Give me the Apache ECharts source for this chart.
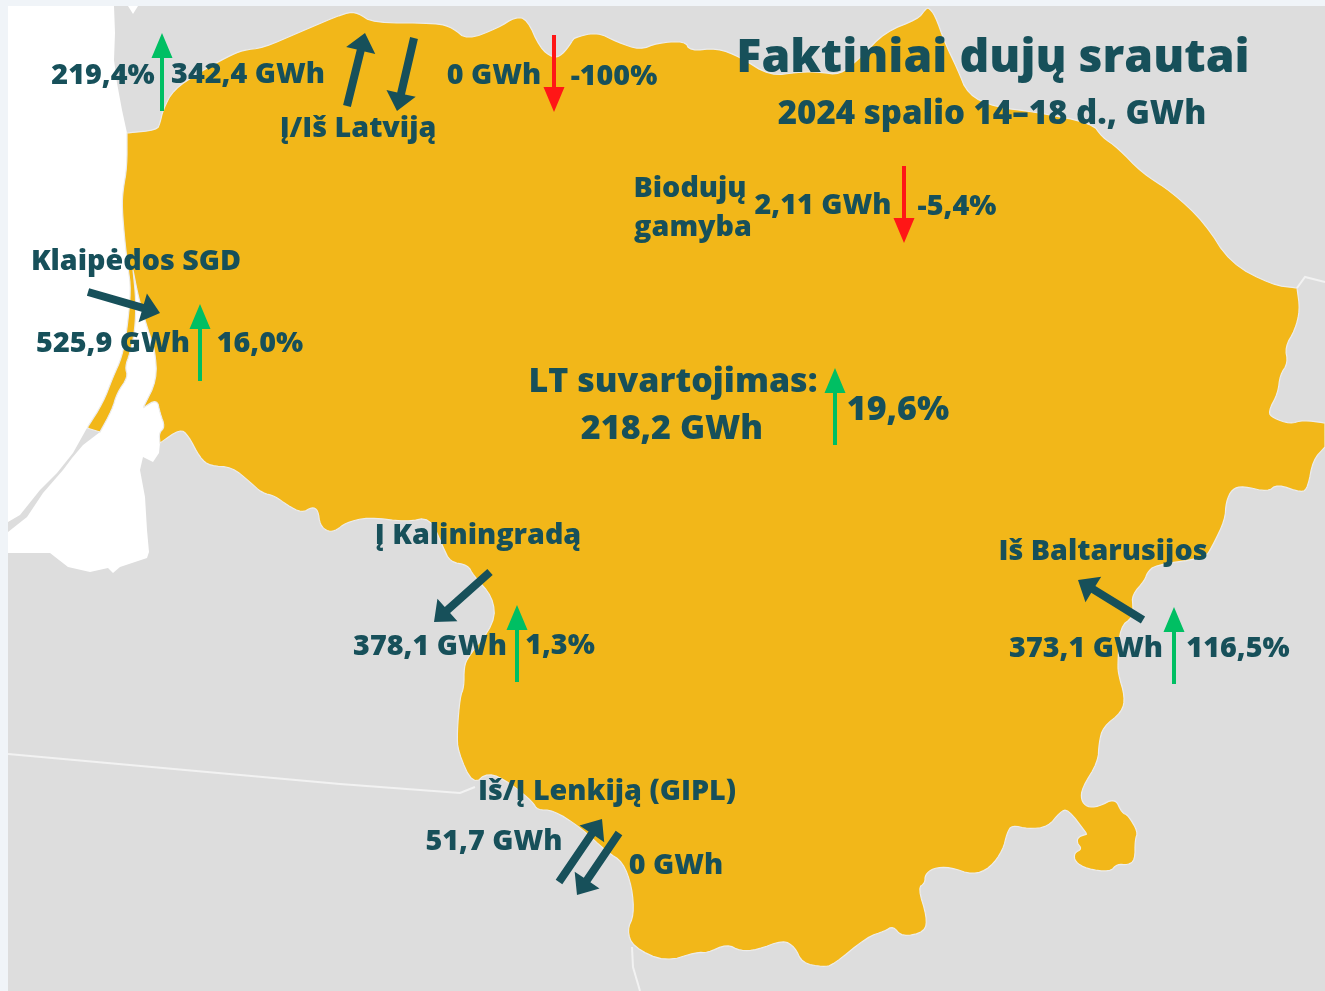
<!DOCTYPE html>
<html>
<head>
<meta charset="utf-8">
<title>Faktiniai dujų srautai</title>
<script src="https://cdn.jsdelivr.net/npm/echarts@6/dist/echarts.min.js"></script>
<style>
    html, body { margin: 0; padding: 0; background: #f0f4f8; }
    #chart { width: 1325px; height: 991px; }
</style>
</head>
<body>
<div id="chart"></div>
<script>
// tekstai
const titleText = 'Faktiniai dujų srautai';
const subtitleText = '2024 spalio 14–18 d., GWh';
const flowNames = ['Į/Iš Latviją', 'Klaipėdos SGD', 'Į Kaliningradą', 'Iš Baltarusijos', 'Iš/Į Lenkiją (GIPL)', 'Biodujų', 'gamyba', 'LT suvartojimas:'];
const flowValues = ['342,4 GWh', '0 GWh', '525,9 GWh', '378,1 GWh', '373,1 GWh', '51,7 GWh', '0 GWh', '2,11 GWh', '218,2 GWh'];
const changeValues = ['219,4%', '-100%', '16,0%', '1,3%', '116,5%', '-5,4%', '19,6%'];

// kur stovi tekstai (tame pačiame eiliškume kaip masyvai aukščiau)
const namePlaces = [[358, 129], [136, 262], [478, 536], [1103, 552], [607, 792], [690, 189], [693, 228], [673, 382]];
const valuePlaces = [[248, 75], [494, 76], [113, 344], [430, 647], [1086, 649], [494, 842], [676, 866], [823, 206], [672, 429]];
const changePlaces = [[103, 76], [614, 77], [260, 344], [560, 646], [1238, 649], [957, 207], [898, 410]];

// pokycio rodykles: x, virsus, apacia. Kryptis ir spalva pagal changeValues zenkla
const changeArrows = [[162, 33, 111], [554, 35, 112], [200, 304, 381], [517, 605, 682], [1174, 607, 684], [904, 166, 243], [835, 368, 445]];
// srauto rodykles: is -> i
const flowArrows = [
    [347, 106, 365, 33], [414, 38, 397, 111], [88, 292, 160, 313], [490, 572, 434, 622],
    [1143, 620, 1078, 580], [559, 882, 602, 819], [619, 833, 577, 895]
];

// zemelapio kontūrai, pakartotas taskas = astrus kampas
const lithuaniaOutline = [
    [127,133],[127,133],[157,130],[160,123],[163,110],[173,90],[200,72],[227,57],[243,50],[263,48],[300,32],[347,12],[358,13],[373,23],[437,23],
    [453,28],[467,40],[498,28],[515,17],[527,19],[540,48],[553,58],[562,55],[572,42],[573,38],[597,32],[617,42],[640,50],[657,43],[685,41],
    [690,51],[717,48],[740,57],[770,76],[800,72],[820,72],[840,75],[860,58],[885,32],[918,19],[925,10],[928,7],[935,15],[945,43],[957,68],[968,95],
    [995,107],[1035,112],[1092,123],[1102,137],[1118,148],[1142,173],[1172,192],[1205,223],[1230,263],[1272,285],[1297,288],[1297,288],[1300,310],
    [1295,330],[1285,347],[1288,363],[1280,375],[1278,393],[1268,412],[1273,418],[1290,424],[1303,420],[1325,423],[1325,423],[1325,447],[1325,447],[1313,460],
    [1308,487],[1302,493],[1277,484],[1268,492],[1243,486],[1232,489],[1226,502],[1225,520],[1212,547],[1205,558],[1155,565],[1147,573],
    [1145,580],[1132,595],[1133,607],[1133,617],[1120,627],[1118,660],[1118,673],[1125,697],[1122,712],[1103,727],[1099,743],[1098,762],
    [1082,788],[1081,800],[1087,807],[1098,807],[1115,798],[1122,813],[1128,815],[1138,832],[1135,840],[1135,860],[1128,865],[1117,864],
    [1110,872],[1087,869],[1075,862],[1074,853],[1082,849],[1077,843],[1078,837],[1087,834],[1087,834],[1068,809],[1060,812],[1048,827],[1028,829],
    [1012,825],[1007,833],[1003,850],[990,868],[973,875],[950,867],[933,868],[925,875],[925,883],[918,888],[927,917],[925,932],[902,937],
    [893,926],[885,931],[867,937],[833,965],[823,967],[802,963],[795,947],[783,940],[757,950],[740,951],[727,944],[707,953],[697,952],
    [665,962],[633,947],[627,930],[634,915],[632,887],[623,862],[607,852],[580,827],[553,810],[537,810],[533,802],[510,783],[488,772],
    [473,785],[458,752],[457,733],[460,697],[464,687],[464,667],[468,657],[495,623],[493,597],[473,575],[468,565],[450,562],[443,547],
    [430,517],[407,522],[368,517],[345,523],[337,530],[328,532],[320,525],[318,510],[312,507],[302,513],[287,505],[275,496],[262,493],
    [250,482],[232,467],[210,466],[200,458],[188,435],[180,429],[160,443],[160,443],[159,433],[165,427],[160,413],[157,399],[143,408],[143,408],[157,380],
    [155,350],[148,330],[139,300],[133,270],[133,270],[136,300],[135,330],[130,353],[125,367],[128,377],[117,393],[112,410],[100,432],[100,432],[87,428],[87,428],
    [103,403],[113,377],[122,357],[127,330],[131,290],[128,267],[125,243],[122,207],[123,190],[127,167],[127,133]
];
const seaOutline = [
    [8,6],[114,6],[115,33],[114,60],[117,83],[122,110],[127,133],[150,300],[160,350],[160,395],[168,420],[162,438],[160,443],[159,453],
    [153,462],[143,457],[140,470],[145,497],[147,530],[149,552],[147,558],[120,567],[113,573],[108,568],[90,572],[68,567],[50,553],[8,553],[8,6]
];
const seaNotch = [[128,6],[138,6],[133,14],[128,6]];
const spitOutline = [
    [87,428],[100,432],[83,445],[72,458],[63,470],[43,493],[27,517],[8,532],[8,522],[20,515],[40,490],[57,473],[73,453],[87,428]
];
const landOutline = [[8,6],[1325,6],[1325,991],[8,991],[8,6]];
const pageOutline = [[0,0],[1325,0],[1325,991],[0,991],[0,0]];
const borderLines = [
    [[8,754],[340,784],[460,793],[475,787]],
    [[632,947],[633,967],[640,991]],
    [[1297,288],[1305,277],[1325,282]]
];

const DARK = '#17505a';
const GOLD = '#f2b719';
const GRAY = '#dddddd';
const GREEN = '#00bf63';
const RED = '#ff1616';
const FRAME = '#f0f4f8';

// kampus nulyginam, originalo kontūras minkstas
function smoothRing(ring, rounds) {
    let pts = ring.slice(0, -1);
    for (let r = 0; r < rounds; r++) {
        const next = [];
        pts.forEach((p, i) => {
            const q = pts[(i + 1) % pts.length];
            next.push([p[0] * 0.75 + q[0] * 0.25, p[1] * 0.75 + q[1] * 0.25]);
            next.push([p[0] * 0.25 + q[0] * 0.75, p[1] * 0.25 + q[1] * 0.75]);
        });
        pts = next;
    }
    pts.push(pts[0]);
    return pts;
}

function feature(name, outline) {
    return {
        type: 'Feature',
        properties: { name: name },
        geometry: { type: 'Polygon', coordinates: [outline] }
    };
}

echarts.registerMap('lt', {
    type: 'FeatureCollection',
    features: [
        feature('page', pageOutline),
        feature('land', landOutline),
        feature('sea', seaOutline),
        feature('notch', seaNotch),
        feature('spit', spitOutline),
        feature('lietuva', smoothRing(lithuaniaOutline, 2))
    ]
});

// tiesi rodykle is koto ir trikampio galvos
function arrowPoints(from, to, shaft, headW, headL) {
    const dx = to[0] - from[0];
    const dy = to[1] - from[1];
    const len = Math.sqrt(dx * dx + dy * dy);
    const ux = dx / len, uy = dy / len;
    const nx = -uy, ny = ux;
    const bx = to[0] - ux * headL, by = to[1] - uy * headL;
    return [
        [from[0] + nx * shaft / 2, from[1] + ny * shaft / 2],
        [bx + nx * shaft / 2, by + ny * shaft / 2],
        [bx + nx * headW / 2, by + ny * headW / 2],
        to,
        [bx - nx * headW / 2, by - ny * headW / 2],
        [bx - nx * shaft / 2, by - ny * shaft / 2],
        [from[0] - nx * shaft / 2, from[1] - ny * shaft / 2]
    ];
}

function textItems(texts, places, size) {
    return texts.map((t, i) => ({
        name: t,
        value: places[i],
        label: { formatter: t, fontSize: size[i] }
    }));
}

const labelData = [
    { name: titleText, value: [993, 59], label: { formatter: titleText, fontSize: 46.4 } },
    { name: subtitleText, value: [992, 115], label: { formatter: subtitleText, fontSize: 33 } }
].concat(
    textItems(flowNames, namePlaces, [28.7, 28.7, 28.7, 28.7, 28.7, 28.7, 28.7, 34]),
    textItems(flowValues, valuePlaces, [28.7, 28.7, 28.7, 28.7, 28.7, 28.7, 28.7, 28.7, 34]),
    textItems(changeValues, changePlaces, [28.7, 28.7, 28.7, 28.7, 28.7, 28.7, 34])
);

const chart = echarts.init(document.getElementById('chart'));
chart.setOption({
    backgroundColor: FRAME,
    animation: false,
    geo: {
        map: 'lt',
        projection: { project: p => p, unproject: p => p },
        left: 0,
        top: 0,
        width: 1325,
        height: 991,
        roam: false,
        silent: true,
        label: { show: false },
        itemStyle: { areaColor: GRAY, borderWidth: 0 },
        regions: [
            { name: 'page', itemStyle: { areaColor: FRAME, borderWidth: 0 } },
            { name: 'land', itemStyle: { areaColor: GRAY, borderWidth: 0 } },
            { name: 'sea', itemStyle: { areaColor: '#ffffff', borderWidth: 0 } },
            { name: 'notch', itemStyle: { areaColor: '#ffffff', borderWidth: 0 } },
            { name: 'spit', itemStyle: { areaColor: GRAY, borderWidth: 0 } },
            { name: 'lietuva', itemStyle: { areaColor: GOLD, borderColor: '#ececec', borderWidth: 1.2 } }
        ]
    },
    series: [
        {
            type: 'lines',
            coordinateSystem: 'geo',
            polyline: true,
            silent: true,
            lineStyle: { color: '#f2f2f2', width: 2, opacity: 1 },
            data: borderLines.map(l => ({ coords: l }))
        },
        {
            // juodos srauto rodykles
            type: 'custom',
            coordinateSystem: 'geo',
            silent: true,
            data: flowArrows,
            renderItem(params, api) {
                const from = api.coord([api.value(0), api.value(1)]);
                const to = api.coord([api.value(2), api.value(3)]);
                return {
                    type: 'polygon',
                    shape: { points: arrowPoints(from, to, 8, 30, 18) },
                    style: { fill: DARK }
                };
            }
        },
        {
            // pokycio rodykles, zalia i virsu, raudona zemyn
            type: 'custom',
            coordinateSystem: 'geo',
            silent: true,
            data: changeArrows,
            renderItem(params, api) {
                const up = changeValues[params.dataIndex].charAt(0) !== '-';
                const x = api.value(0);
                const top = api.coord([x, api.value(1)]);
                const bottom = api.coord([x, api.value(2)]);
                return {
                    type: 'polygon',
                    shape: { points: up ? arrowPoints(bottom, top, 4, 21, 25) : arrowPoints(top, bottom, 4, 21, 25) },
                    style: { fill: up ? GREEN : RED }
                };
            }
        },
        {
            type: 'scatter',
            coordinateSystem: 'geo',
            silent: true,
            symbolSize: 0,
            z: 10,
            itemStyle: { opacity: 1 },
            label: {
                show: true,
                position: 'inside',
                color: DARK,
                opacity: 1,
                fontFamily: 'Open Sans',
                fontWeight: 800
            },
            data: labelData
        }
    ]
});
</script>
</body>
</html>
